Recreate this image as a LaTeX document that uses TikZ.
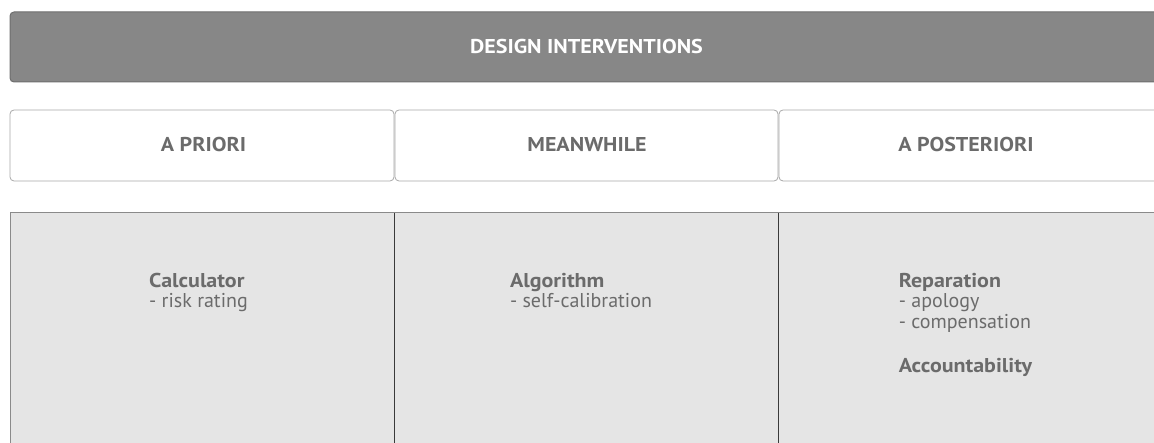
\documentclass[tikz,border=0pt]{standalone}
\usepackage{fontspec}
\setmainfont{PT Sans}[BoldFeatures={FakeStretch=1.1}]
\definecolor{txtgray}{HTML}{6B6B6B}
\definecolor{barfill}{HTML}{878787}
\definecolor{barline}{HTML}{6E6E6E}
\definecolor{boxline}{HTML}{A8A8A8}
\definecolor{panelfill}{HTML}{E5E5E5}
\definecolor{panelline}{HTML}{8A8A8A}
\definecolor{divline}{HTML}{3A3A3A}
\tikzset{
  bar/.style={draw=barline, fill=barfill, line width=1pt, rounded corners=4pt},
  phasebox/.style={draw=boxline, fill=white, line width=0.8pt, rounded corners=4pt},
  headtxt/.style={font=\fontsize{20}{22}\selectfont\bfseries, text=txtgray},
  celltxt/.style={font=\fontsize{20}{20.5}\selectfont, text=txtgray, align=left, anchor=north, inner sep=0pt},
}
\begin{document}
\begin{tikzpicture}[x=1pt,y=-1pt]
\useasboundingbox (0,0) rectangle (1154,443);
\clip (0,0) rectangle (1154,443);
% top bar
\draw[bar] (10,12) rectangle (1170,82);
\node[font=\fontsize{20}{22}\selectfont\bfseries, text=white] (title) at (586.5,47) {DESIGN INTERVENTIONS};
% phase boxes
\draw[phasebox] (10,110) rectangle (394,181);
\draw[phasebox] (395,110) rectangle (778,181);
\draw[phasebox] (779,110) rectangle (1170,181);
\node[headtxt] (apriori) at (203.5,145) {A PRIORI};
\node[headtxt] (meanwhile) at (587,145) {MEANWHILE};
\node[headtxt] (aposteriori) at (966,145) {A POSTERIORI};
% panel
\fill[panelfill] (10,213) rectangle (1170,460);
\draw[panelline, line width=1pt] (10,460) -- (10,213) -- (1170,213);
\draw[divline, line width=1pt] (394,213) -- (394,460);
\draw[divline, line width=1pt] (778,213) -- (778,460);
% cell texts
\node[celltxt] (c1) at (198.5,273) {\textbf{Calculator}\\- risk rating};
\node[celltxt] (c2) at (581,273) {\textbf{Algorithm}\\- self-calibration};
\node[celltxt] (c3) at (965.5,273) {\textbf{Reparation}\\- apology\\- compensation\\[24pt]\textbf{Accountability}};
\end{tikzpicture}
\end{document}
